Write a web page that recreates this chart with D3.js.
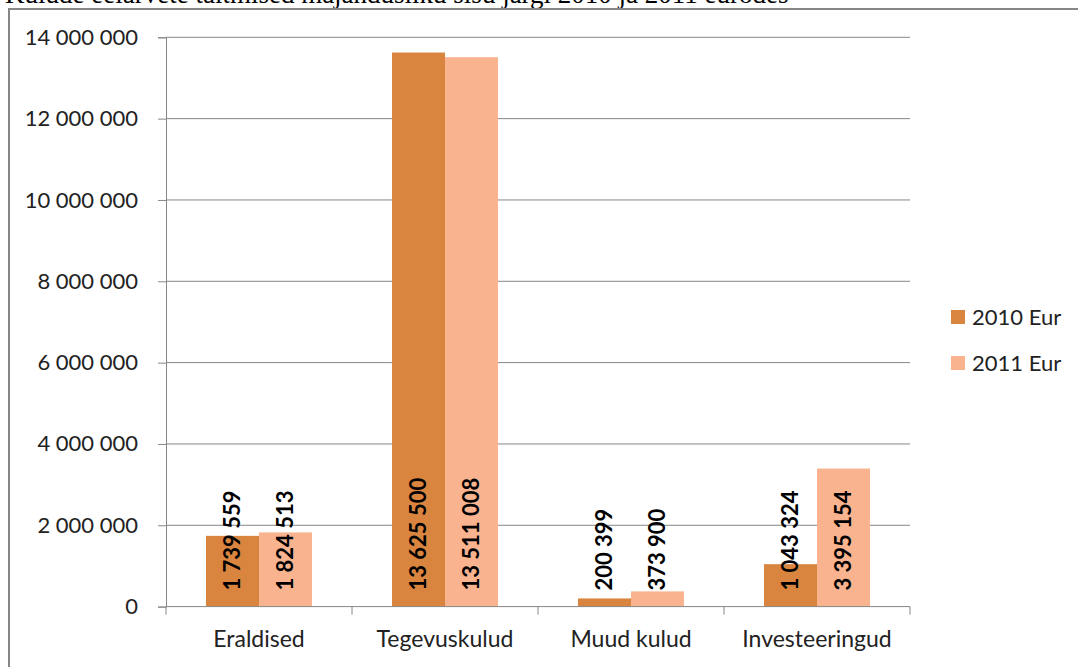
<!DOCTYPE html>
<html><head><meta charset="utf-8">
<script src="https://cdn.jsdelivr.net/npm/d3@7"></script>
<style>
html,body{margin:0;padding:0;background:#fff;overflow:hidden;}
svg{display:block;}
</style></head>
<body>
<svg id="c" width="1078" height="667"></svg>
<script>
const title = "Kulude eelarvete täitmised majandusliku sisu järgi 2010 ja 2011 eurodes";
const categories = ["Eraldised", "Tegevuskulud", "Muud kulud", "Investeeringud"];
const seriesNames = ["2010 Eur", "2011 Eur"];
const values2010 = [1739559, 13625500, 200399, 1043324];
const values2011 = [1824513, 13511008, 373900, 3395154];
const yTicks = [0, 2000000, 4000000, 6000000, 8000000, 10000000, 12000000, 14000000];
const colors = ["#D9843F", "#F9B48F"];

const svg = d3.select("#c");
const font = "Lato, 'Open Sans', sans-serif";
const L = 166, R = 910, T = 37.3, B = 606.6;

// title (cropped at top, as in the source)
svg.append("text").attr("x", 5).attr("y", 3)
  .attr("font-family", "'Liberation Serif', 'Times New Roman', serif")
  .attr("font-size", 27).attr("fill", "#000").text(title);

// frame
svg.append("rect").attr("x", 9).attr("y", 9).attr("width", 1200).attr("height", 800)
  .attr("fill", "none").attr("stroke", "#868686").attr("stroke-width", 2);

const y = d3.scaleLinear().domain([0, 14000000]).range([B, T]);
const x0 = d3.scaleBand().domain(categories).range([L, R]).padding(0);
const bw = x0.bandwidth();
const x1 = d3.scaleBand().domain(seriesNames).range([bw * 0.215, bw * 0.785]).padding(0);

const fmt = v => d3.format(",")(v).replace(/,/g, " ");

// gridlines
svg.append("g").selectAll("line").data(yTicks.filter(d => d > 0)).join("line")
  .attr("x1", L).attr("x2", R).attr("y1", d => y(d)).attr("y2", d => y(d))
  .attr("stroke", "#868686").attr("stroke-width", 1);

// y axis
const yAxis = svg.append("g").attr("transform", `translate(${L},0)`)
  .call(d3.axisLeft(y).tickValues(yTicks).tickSize(8).tickPadding(20).tickFormat(fmt));
yAxis.select(".domain").attr("stroke", "#868686");
yAxis.selectAll(".tick line").attr("stroke", "#868686");
yAxis.selectAll("text").attr("font-family", font).attr("font-size", 22).attr("fill", "#222");

// bars
const data = categories.map((c, i) => ({ c, vals: [values2010[i], values2011[i]] }));
const grp = svg.append("g").selectAll("g").data(data).join("g")
  .attr("transform", d => `translate(${x0(d.c)},0)`);
grp.selectAll("rect").data(d => d.vals.map((v, k) => ({ v, k }))).join("rect")
  .attr("x", d => x1(seriesNames[d.k])).attr("width", x1.bandwidth())
  .attr("y", d => y(d.v)).attr("height", d => y(0) - y(d.v))
  .attr("fill", d => colors[d.k]);
grp.selectAll("text").data(d => d.vals.map((v, k) => ({ v, k }))).join("text")
  .attr("transform", d => `translate(${x1(seriesNames[d.k]) + x1.bandwidth() / 2},${y(0) - 16}) rotate(-90)`)
  .attr("dy", "0.35em").attr("text-anchor", "start")
  .attr("font-family", font).attr("font-weight", "bold").attr("font-size", 22).attr("fill", "#000")
  .text(d => fmt(d.v));

// x axis
const xAxis = svg.append("g").attr("transform", `translate(0,${B})`)
  .call(d3.axisBottom(x0).tickSize(0).tickPadding(24));
xAxis.select(".domain").remove();
xAxis.selectAll("text").attr("font-family", font).attr("font-size", 23).attr("fill", "#222");
svg.append("line").attr("x1", L).attr("x2", R).attr("y1", B).attr("y2", B).attr("stroke", "#868686");
const bounds = categories.map(c => x0(c)).concat([R]);
svg.append("g").selectAll("line").data(bounds).join("line")
  .attr("x1", d => d).attr("x2", d => d).attr("y1", B).attr("y2", B + 8)
  .attr("stroke", "#868686");

// legend
const lg = svg.append("g").selectAll("g").data(seriesNames).join("g")
  .attr("transform", (d, i) => `translate(951,${310 + i * 46})`);
lg.append("rect").attr("width", 14).attr("height", 14).attr("fill", (d, i) => colors[i]);
lg.append("text").attr("x", 21).attr("y", 7).attr("dy", "0.35em")
  .attr("font-family", font).attr("font-size", 22).attr("fill", "#222").text(d => d);
</script>
</body></html>
